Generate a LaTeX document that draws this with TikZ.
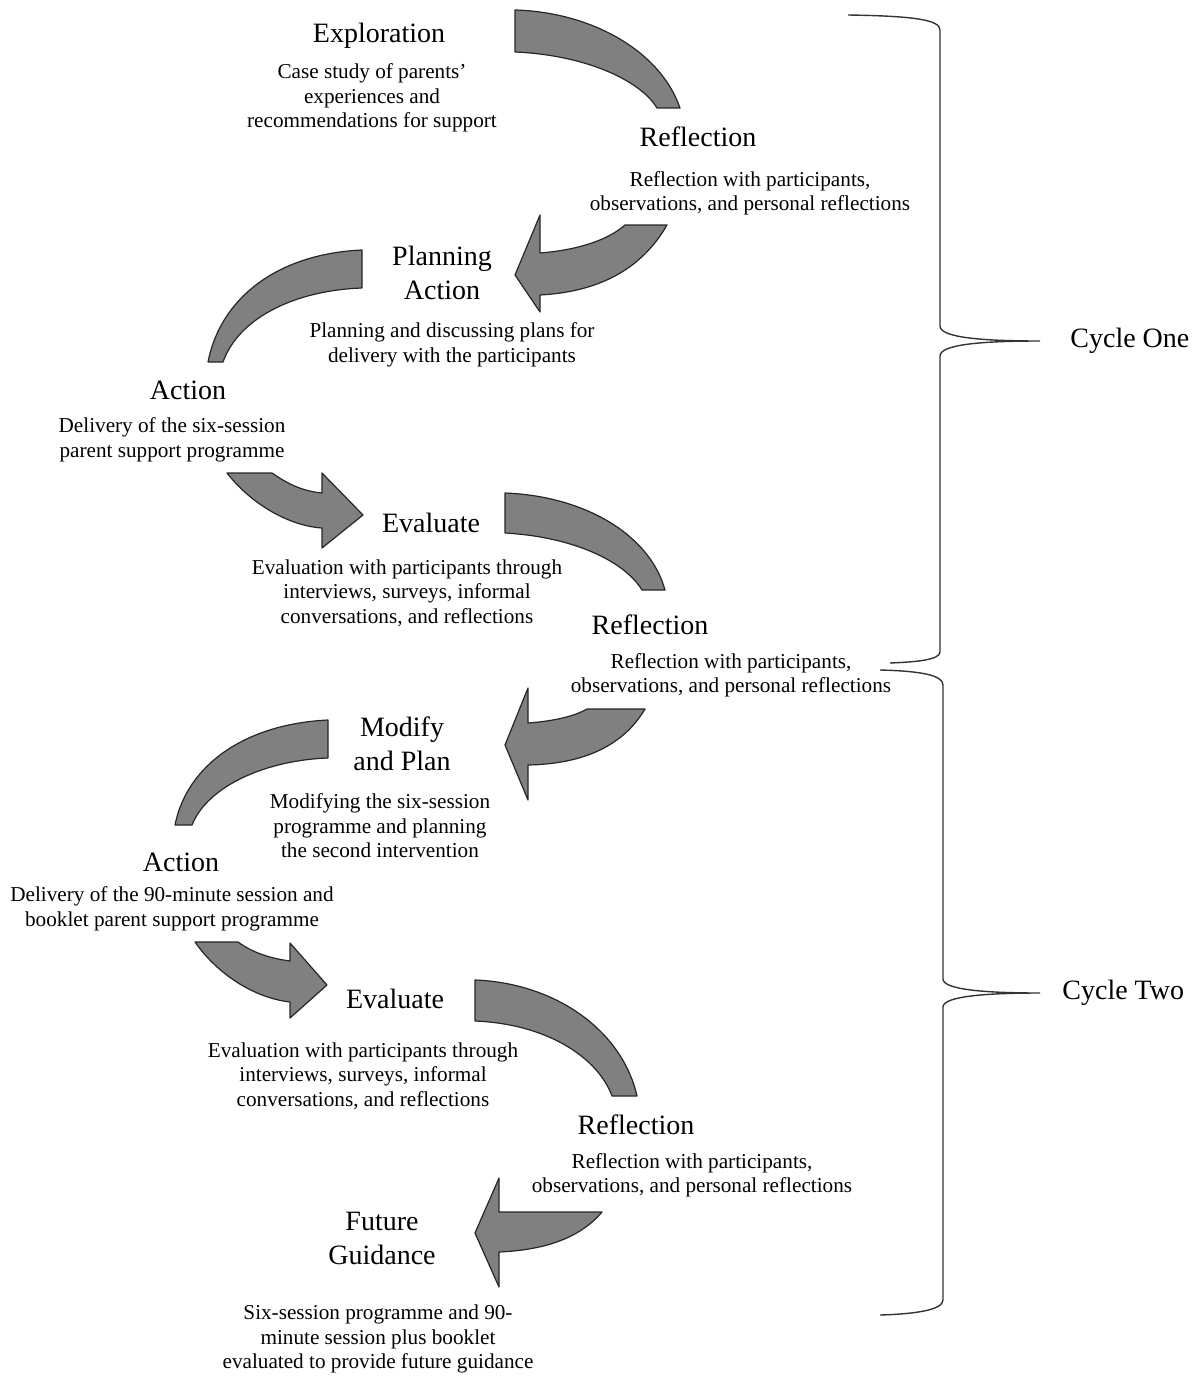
\documentclass[tikz,border=0pt]{standalone}
\usepackage{fontspec}
\setmainfont{Liberation Serif}
\usepackage{xcolor}
\usepackage{tikz}
\usetikzlibrary{positioning,calc}

\definecolor{bandgray}{RGB}{128,128,128}

\begin{document}
\begin{tikzpicture}[x=0.5pt,y=-0.5pt,
    band/.style={fill=bandgray,draw=black!85,line width=0.6pt,line join=round},
    brace/.style={draw=black!80,line width=0.7pt},
    head/.style={font=\fontsize{14}{17}\selectfont,align=center,inner sep=0pt},
    body/.style={font=\fontsize{10.6}{12.2}\selectfont,align=center,inner sep=0pt},
    cyc/.style={font=\fontsize{14}{17}\selectfont,inner sep=0pt}]
  \useasboundingbox (0,0) rectangle (1203,1376);

  % cycle one arrows
  \draw[band] (515,10) .. controls (590,12) and (660,50) .. (680,108) -- (657,108)
      .. controls (640,80) and (585,55) .. (515,52) -- cycle;
  \draw[band] (667,225) .. controls (640,272) and (595,292) .. (540,295) -- (540,312)
      -- (515,275) -- (540,215) -- (540,253) .. controls (578,250) and (608,240) .. (625,225) -- cycle;
  \draw[band] (362,250) -- (362,288) .. controls (300,290) and (240,315) .. (223,362) -- (208,362)
      .. controls (220,300) and (275,254) .. (362,250) -- cycle;
  \draw[band] (227,473) .. controls (252,505) and (290,526) .. (322,528) -- (322,548)
      -- (363,515) -- (322,473) -- (322,493) .. controls (302,491) and (288,484) .. (272,473) -- cycle;
  \draw[band] (505,493) .. controls (585,496) and (650,535) .. (665,590) -- (642,590)
      .. controls (625,562) and (575,537) .. (505,533) -- cycle;

  % cycle two arrows
  \draw[band] (645,709) .. controls (622,748) and (580,764) .. (528,765) -- (528,800)
      -- (505,745) -- (528,688) -- (528,723) .. controls (555,721) and (575,716) .. (587,709) -- cycle;
  \draw[band] (328,720) -- (328,758) .. controls (268,760) and (208,785) .. (192,825) -- (175,825)
      .. controls (187,765) and (245,724) .. (328,720) -- cycle;
  \draw[band] (195,942) .. controls (218,975) and (255,998) .. (290,1002) -- (290,1018)
      -- (327,985) -- (290,943) -- (290,961) .. controls (268,958) and (252,952) .. (238,942) -- cycle;
  \draw[band] (475,980) .. controls (555,983) and (622,1030) .. (637,1096) -- (612,1096)
      .. controls (598,1058) and (548,1024) .. (475,1021) -- cycle;
  \draw[band] (602,1212) .. controls (580,1238) and (545,1250) .. (499,1252) -- (499,1287)
      -- (475,1233) -- (499,1178) -- (499,1212) -- cycle;

  % labels
  \node[head] (explore) at (379,36) {Exploration};
  \node[body] (exploretxt) at (372,98) {Case study of parents'\\experiences and\\recommendations for support};
  \node[head] (reflone) at (698,137) {Reflection};
  \node[body] (reflonetxt) at (750,193) {Reflection with participants,\\observations, and personal reflections};
  \node[head] (plan) at (442,273) {Planning\\Action};
  \node[body] (plantxt) at (452,345) {Planning and discussing plans for\\delivery with the participants};
  \node[head] (actone) at (188,390) {Action};
  \node[body] (actonetxt) at (172,440) {Delivery of the six-session\\parent support programme};
  \node[head] (evalone) at (431,523) {Evaluate};
  \node[body] (evalonetxt) at (407,593) {Evaluation with participants through\\interviews, surveys, informal\\conversations, and reflections};
  \node[head] (refltwo) at (650,625) {Reflection};
  \node[body] (refltwotxt) at (731,675) {Reflection with participants,\\observations, and personal reflections};
  \node[head] (modify) at (402,744) {Modify\\and Plan};
  \node[body] (modifytxt) at (380,826) {Modifying the six-session\\programme and planning\\the second intervention};
  \node[head] (acttwo) at (181,862) {Action};
  \node[body] (acttwotxt) at (172,909) {Delivery of the 90-minute session and\\booklet parent support programme};
  \node[head] (evaltwo) at (395,999) {Evaluate};
  \node[body] (evaltwotxt) at (363,1076) {Evaluation with participants through\\interviews, surveys, informal\\conversations, and reflections};
  \node[head] (reflthree) at (636,1125) {Reflection};
  \node[body] (reflthreetxt) at (692,1175) {Reflection with participants,\\observations, and personal reflections};
  \node[head] (future) at (382,1238) {Future\\Guidance};
  \node[body] (futuretxt) at (378,1339) {Six-session programme and 90-\\minute session plus booklet\\evaluated to provide future guidance};

  % braces
  \coordinate (tipone) at (1040,341);
  \coordinate (tiptwo) at (1040,993);
  \draw[brace] (848,15) .. controls (915,16) and (940,20) .. (940,30) -- (940,326)
      .. controls (940,338) and (985,341) .. (tipone) .. controls (985,341) and (940,344) .. (940,356)
      -- (940,652) .. controls (940,660) and (915,662) .. (890,663);
  \draw[brace] (880,670) .. controls (920,671) and (943,675) .. (943,685) -- (943,979)
      .. controls (943,990) and (988,993) .. (tiptwo) .. controls (988,993) and (943,996) .. (943,1007)
      -- (943,1300) .. controls (943,1310) and (915,1314) .. (880,1315);
  \node[cyc,right=15pt of tipone] (cycone) {Cycle One};
  \node[cyc,right=11pt of tiptwo] (cyctwo) {Cycle Two};
\end{tikzpicture}
\end{document}
